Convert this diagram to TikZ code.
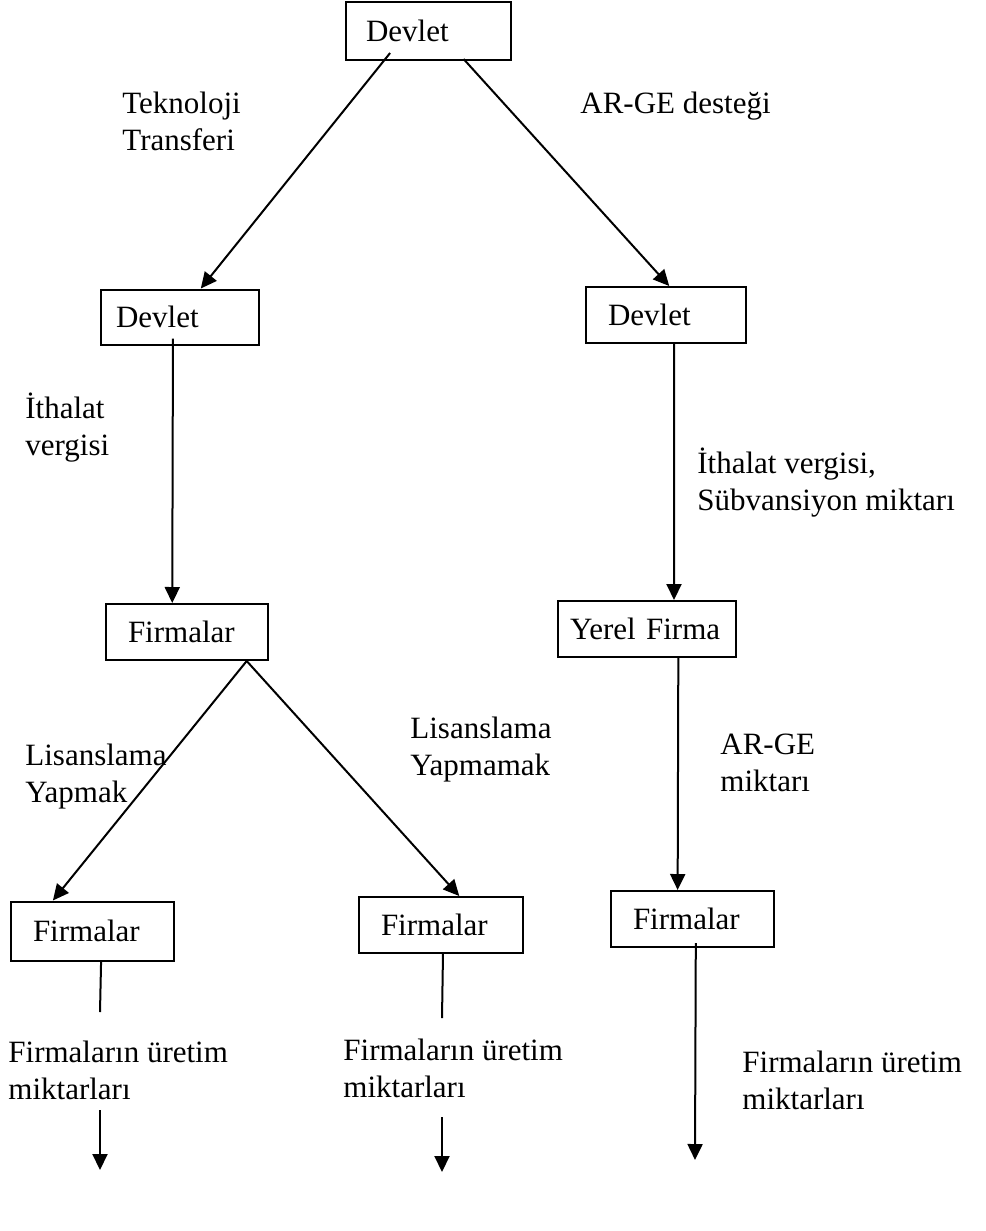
\documentclass[tikz,border=0pt]{standalone}
\usepackage{fontspec}
\setmainfont{Liberation Serif}
\usetikzlibrary{arrows.meta,calc}

\tikzset{
  kutu/.style={draw, line width=1pt, anchor=west, align=left, inner xsep=11pt, inner ysep=0pt, minimum height=28pt},
  etiket/.style={anchor=base west, align=left, inner sep=0pt},
  ok/.style={line width=1pt, -{Triangle[length=8pt,width=7.5pt]}},
  cizgi/.style={line width=1pt},
}

\begin{document}
\begin{tikzpicture}[x=0.5pt, y=-0.5pt, font=\fontsize{15.5pt}{18.5pt}\selectfont]
  \useasboundingbox (0,0) rectangle (985,1231);

  % Nodes
  \node[kutu, text width=62.5pt, inner xsep=10pt, minimum height=29pt] (devlet) at (345,31) {Devlet}; % top
  \node[kutu, text width=64pt, inner xsep=7.5pt, minimum height=27.5pt] (devletSol) at (100,317) {Devlet}; % left branch
  \node[kutu, text width=58pt] (devletSag) at (585,315) {Devlet}; % right branch
  \node[kutu, text width=59pt] (firmalar) at (105,632) {Firmalar};
  \node[kutu, text width=77pt, inner xsep=6pt] (yerel) at (557,629) {Yerel Firma};
  \node[kutu, text width=59.5pt, minimum height=29.5pt] (firmaA) at (10,931) {Firmalar}; % licensing
  \node[kutu, text width=60pt] (firmaB) at (358,925) {Firmalar}; % no licensing
  \node[kutu, text width=59.5pt] (firmaC) at (610,919) {Firmalar}; % local firm

  % Labels (base = last line)
  \node[etiket] (tekno) at (122,150) {Teknoloji\\Transferi};
  \node[etiket] (arge) at (580,113) {AR-GE desteği};
  \node[etiket] (ithalat) at (25,455) {İthalat\\vergisi};
  \node[etiket] (sub) at (697,510) {İthalat vergisi,\\Sübvansiyon miktarı};
  \node[etiket] (lisYap) at (25,802) {Lisanslama\\Yapmak};
  \node[etiket] (lisYapma) at (410,775) {Lisanslama\\Yapmamak};
  \node[etiket] (argeMik) at (720,791) {AR-GE\\miktarı};
  \node[etiket] (uretimA) at (8,1099) {Firmaların üretim\\miktarları};
  \node[etiket] (uretimB) at (343,1097) {Firmaların üretim\\miktarları};
  \node[etiket] (uretimC) at (742,1109) {Firmaların üretim\\miktarları};

  % Loose ends
  \coordinate (aUst) at (100,1012);
  \coordinate (aAlt) at (100,1110);
  \coordinate (aSon) at (100,1170);
  \coordinate (bUst) at (442,1018);
  \coordinate (bAlt) at (442,1117);
  \coordinate (bSon) at (442,1172);
  \coordinate (cSon) at (695,1160);

  % Edge
  \draw[ok] ($(devlet.south west)!.27!(devlet.south east)+(0,-8)$) -- ($(devletSol.north west)!.63!(devletSol.north east)$);
  \draw[ok] ($(devlet.south west)!.71!(devlet.south east)+(0,-2)$) -- ($(devletSag.north west)!.52!(devletSag.north east)$);
  \draw[ok] ($(devletSol.south west)!.456!(devletSol.south east)+(0,-7)$) -- ($(firmalar.north west)!.41!(firmalar.north east)$);
  \draw[ok] ($(devletSag.south west)!.55!(devletSag.south east)$) -- ($(yerel.north west)!.65!(yerel.north east)$);
  \draw[ok] ($(firmalar.south west)!.864!(firmalar.south east)$) -- ($(firmaA.north west)!.26!(firmaA.north east)$);
  \draw[ok] ($(firmalar.south west)!.864!(firmalar.south east)$) -- ($(firmaB.north west)!.61!(firmaB.north east)$);
  \draw[ok] ($(yerel.south west)!.674!(yerel.south east)$) -- ($(firmaC.north west)!.41!(firmaC.north east)$);

  % Output quantities
  \draw[cizgi] ($(firmaA.south west)!.552!(firmaA.south east)$) -- (aUst);
  \draw[ok] (aAlt) -- (aSon);
  \draw[cizgi] ($(firmaB.south west)!.512!(firmaB.south east)$) -- (bUst);
  \draw[ok] (bAlt) -- (bSon);
  \draw[ok] ($(firmaC.south west)!.52!(firmaC.south east)+(0,-5)$) -- (cSon);

\end{tikzpicture}
\end{document}
